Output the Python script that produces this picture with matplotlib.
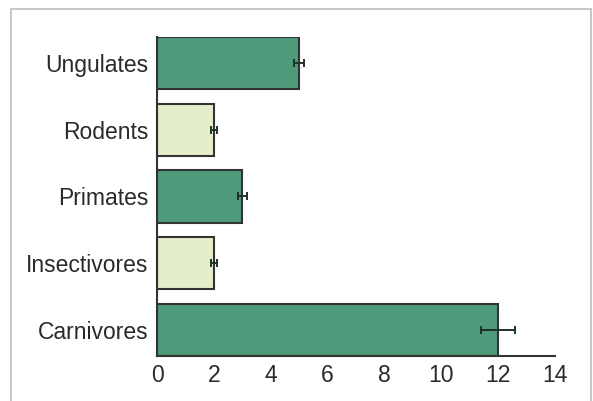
import matplotlib
matplotlib.use('Agg')
import matplotlib.pyplot as plt
from matplotlib.patches import Rectangle

# data (bottom to top)
groups = ['Carnivores', 'Insectivores', 'Primates', 'Rodents', 'Ungulates']
values = [12, 2, 3, 2, 5]
errors = [0.6, 0.12, 0.15, 0.12, 0.18]
colors = ['#4f9a7a', '#e5eecb', '#4f9a7a', '#e5eecb', '#4f9a7a']

plt.rcParams['font.family'] = ['Liberation Sans', 'DejaVu Sans']

fig = plt.figure(figsize=(5.93, 4.01), dpi=100)
ax = fig.add_axes([0.265, 0.112, 0.671, 0.796])

ypos = list(range(len(groups)))
ax.barh(ypos, values, height=0.78, color=colors, edgecolor='#333333',
        linewidth=1.5, zorder=2)
ax.errorbar(values, ypos, xerr=errors, fmt='none', ecolor='#1e3328',
            elinewidth=1.4, capsize=3, capthick=1.4, zorder=3)

ax.set_xlim(0, 14)
ax.set_ylim(-0.39, 4.39)
ax.set_xticks(range(0, 15, 2))
ax.set_yticks(ypos)
ax.set_yticklabels(groups)
ax.tick_params(axis='both', length=0, labelsize=16.5, colors='#2a2a2a')
ax.tick_params(axis='y', pad=6.5)
ax.tick_params(axis='x', pad=6)

for s in ['top', 'right']:
    ax.spines[s].set_visible(False)
for s in ['left', 'bottom']:
    ax.spines[s].set_color('#333333')
    ax.spines[s].set_linewidth(1.5)

# light grey frame around the figure
fig.patches.append(Rectangle((11 / 593, -0.05), (591 - 11) / 593, 1.05 - 9 / 401,
                             transform=fig.transFigure, fill=False,
                             edgecolor='#c8c8c8', linewidth=1.5))

fig.savefig('out.png', dpi=100)
